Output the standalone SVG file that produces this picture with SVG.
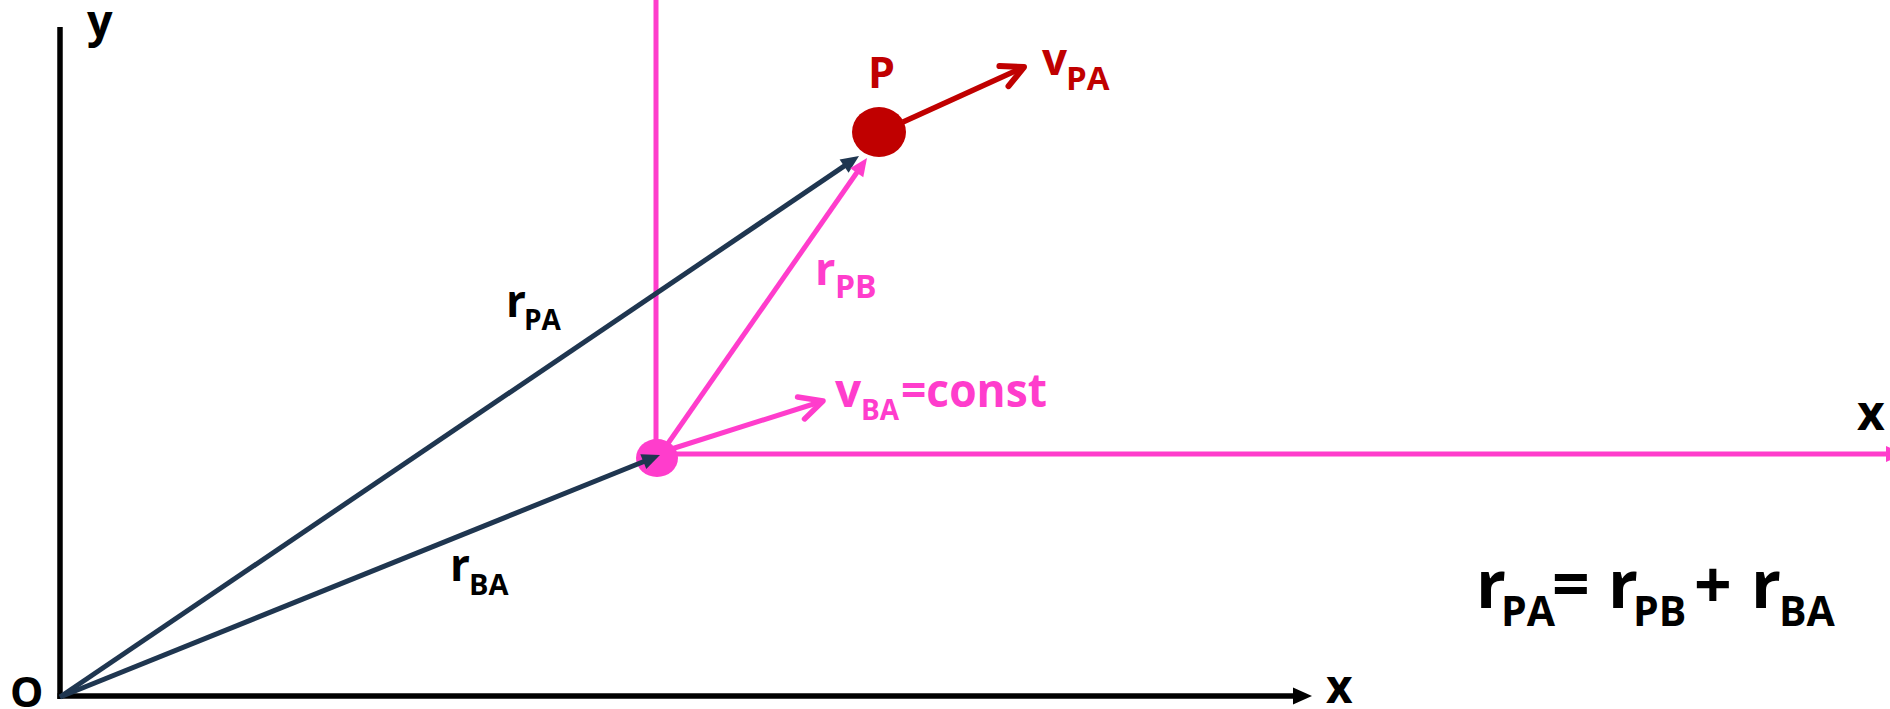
<svg xmlns="http://www.w3.org/2000/svg" width="1890" height="709" viewBox="0 0 1890 709">
<style>
  text { font-family: "Open Sans", "Liberation Sans", sans-serif; font-weight: bold; }
  .blk { fill: #000000; }
  .pink { fill: #ff3dcc; }
  .red { fill: #c00000; }
  .axis { stroke: #000000; stroke-width: 5.5; fill: none; }
  .navy { stroke: #1f3650; stroke-width: 5; fill: none; }
  .pk { stroke: #ff3dcc; stroke-width: 5; fill: none; }
  .rd { stroke: #c00000; stroke-width: 5.5; fill: none; }
</style>
<defs>
  <marker id="triBlack" markerUnits="userSpaceOnUse" markerWidth="30" markerHeight="30" viewBox="-10 -15 30 30" refX="0" refY="0" orient="auto">
    <path d="M-4,-8.5 L15,0 L-4,8.5 Z" fill="#000000"/>
  </marker>
  <marker id="triNavy" markerUnits="userSpaceOnUse" markerWidth="30" markerHeight="30" viewBox="-10 -15 30 30" refX="0" refY="0" orient="auto">
    <path d="M-4,-8 L14,0 L-4,8 Z" fill="#1f3650"/>
  </marker>
  <marker id="triPink" markerUnits="userSpaceOnUse" markerWidth="30" markerHeight="30" viewBox="-10 -15 30 30" refX="0" refY="0" orient="auto">
    <path d="M-4,-8 L14,0 L-4,8 Z" fill="#ff3dcc"/>
  </marker>
  <marker id="openPink" markerUnits="userSpaceOnUse" markerWidth="40" markerHeight="40" viewBox="-30 -20 40 40" refX="0" refY="0" orient="auto">
    <path d="M-23,-11.5 L0,0 L-23,11.5" fill="none" stroke="#ff3dcc" stroke-width="5.5" stroke-linecap="round" stroke-linejoin="round"/>
  </marker>
  <marker id="openRed" markerUnits="userSpaceOnUse" markerWidth="40" markerHeight="40" viewBox="-30 -20 40 40" refX="0" refY="0" orient="auto">
    <path d="M-22,-11 L0,0 L-22,11" fill="none" stroke="#c00000" stroke-width="6" stroke-linecap="round" stroke-linejoin="round"/>
  </marker>
</defs>

<g id="axes-A">
  <line class="axis" x1="60" y1="27" x2="60" y2="699"/>
  <line class="axis" x1="57.5" y1="696" x2="1297" y2="696" marker-end="url(#triBlack)"/>
  <text class="blk" x="87" y="37" font-size="45">y</text>
  <text class="blk" x="10" y="707" font-size="42">O</text>
  <text class="blk" x="1326" y="703" font-size="46">x</text>
</g>

<g id="frame-B">
  <line class="pk" x1="656" y1="0" x2="656" y2="456"/>
  <line class="pk" x1="657" y1="454" x2="1890" y2="454" marker-end="url(#triPink)"/>
  <text class="blk" x="1857" y="430" font-size="48">x</text>
</g>

<g id="connectors">
  <line class="navy" x1="60" y1="697" x2="847.4" y2="163.9" marker-end="url(#triNavy)"/>
  <line class="pk" x1="662" y1="452" x2="859" y2="169.5" marker-end="url(#triPink)"/>
  <line class="pk" x1="662" y1="452" x2="823" y2="401" marker-end="url(#openPink)"/>
  <line class="rd" x1="903" y1="122" x2="1024" y2="67" marker-end="url(#openRed)"/>
</g>

<g id="node-B">
  <ellipse cx="657" cy="458" rx="21" ry="19" fill="#ff3dcc"/>
</g>

<g id="connector-rBA">
  <line class="navy" x1="60" y1="697" x2="647" y2="460.2" marker-end="url(#triNavy)"/>
</g>

<g id="node-P">
  <ellipse cx="879" cy="132" rx="27" ry="25" fill="#c00000"/>
  <text class="red" x="868" y="88" font-size="43">P</text>
</g>

<g id="labels">
  <text class="red"><tspan x="1042" y="75" font-size="44">v</tspan><tspan x="1066" y="90" font-size="33">PA</tspan></text>
  <text class="blk"><tspan x="506" y="317" font-size="44">r</tspan><tspan x="524" y="330" font-size="28">PA</tspan></text>
  <text class="blk"><tspan x="450" y="581" font-size="44">r</tspan><tspan x="469" y="595" font-size="29">BA</tspan></text>
  <text class="pink"><tspan x="815" y="285" font-size="45">r</tspan><tspan x="835" y="298" font-size="32">PB</tspan></text>
  <text class="pink"><tspan x="835" y="407" font-size="46">v</tspan><tspan x="861" y="420" font-size="28">BA</tspan><tspan x="901" y="407" font-size="46" textLength="146" lengthAdjust="spacingAndGlyphs">=const</tspan></text>
</g>

<g id="equation">
  <text class="blk"><tspan x="1476" y="608" font-size="66">r</tspan><tspan x="1501" y="626" font-size="41">PA</tspan><tspan x="1552" y="608" font-size="66">=</tspan><tspan x="1608" y="608" font-size="66">r</tspan><tspan x="1633" y="626" font-size="41">PB</tspan><tspan x="1694" y="608" font-size="66">+</tspan><tspan x="1751" y="608" font-size="66">r</tspan><tspan x="1779" y="626" font-size="41">BA</tspan></text>
</g>
</svg>
